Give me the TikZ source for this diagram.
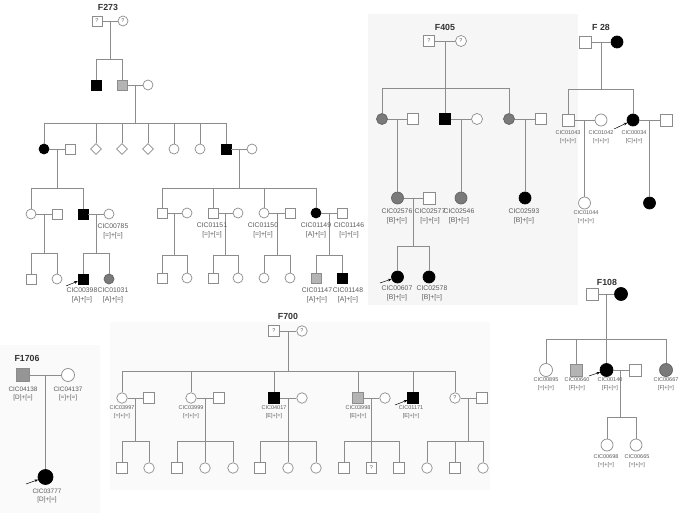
\documentclass[tikz,border=0pt]{standalone}
\usepackage{fontspec}
\setmainfont{Liberation Sans}
\usetikzlibrary{shapes.geometric,arrows.meta,calc}
\definecolor{lc}{HTML}{8C8C8C}
\definecolor{tc}{HTML}{5A5A5A}
\definecolor{cLight}{HTML}{B4B4B4}
\definecolor{cDark}{HTML}{7A7A7A}
\definecolor{cPanel}{HTML}{F6F6F6}
\definecolor{cPanelB}{HTML}{FAFAFA}
\tikzset{
  ind/.style={draw=lc, line width=0.7pt, fill=white, inner sep=0pt, minimum size=#1, font=\fontsize{5.5}{6}\selectfont, text=tc},
  male/.style={ind=#1, rectangle}, male/.default=10pt,
  fem/.style={ind=#1, circle}, fem/.default=10pt,
  unk/.style={ind=#1, diamond}, unk/.default=11pt,
  aff/.style={fill=black, draw=black},
  hlt/.style={fill=cLight},
  hdk/.style={fill=cDark, draw=cDark!80!black},
  rel/.style={draw=lc, line width=0.7pt},
  arr/.style={draw=black, line width=0.5pt, -{Stealth[length=3.5pt,width=2.8pt]}},
  ttl/.style={font=\bfseries\fontsize{8.8}{10}\selectfont, text=black!80, inner sep=0pt},
  lab/.style={text=tc, align=center, inner sep=0pt, font=\fontsize{6.8}{8.8}\selectfont},
  labs/.style={text=tc, align=center, inner sep=0pt, font=\fontsize{5.5}{8}\selectfont},
}
\newcommand\pmar[3]{\draw[rel] (#1) -- (#2); \coordinate (#3) at ($(#1)!0.5!(#2)$);}
\newcommand\psib[5]{%
  \draw[rel] (#1) -- (#1 |- 0,#2);
  \draw[rel] (#3 |- 0,#2) -- (#4 |- 0,#2);
  \foreach \cc in {#5}{\draw[rel] (\cc |- 0,#2) -- (\cc);}%
}
\begin{document}
\begin{tikzpicture}[x=1pt,y=-1pt]
\useasboundingbox (0,0) rectangle (685,513);
\fill[white] (0,0) rectangle (685,513);
\fill[cPanel] (368,14) rectangle (578,305);
\fill[cPanelB] (110,322) rectangle (490,490);
\fill[cPanelB] (0,345) rectangle (100,513);
% ================= F273
\node[ttl] (tT) at (108,7) {F273};
\node[male] (t1) at (97,21) {?};
\node[fem] (t2) at (123,21) {?};
\node[male,aff] (t3) at (96,85) {};
\node[male,hlt] (t4) at (122,85) {};
\node[fem] (t5) at (148,85) {};
\node[fem,aff] (t6) at (44,149) {};
\node[male] (t7) at (70,149) {};
\node[unk] (t8) at (96,149) {};
\node[unk] (t9) at (122,149) {};
\node[unk] (t10) at (148,149) {};
\node[fem] (t11) at (174,149) {};
\node[fem] (t12) at (200,149) {};
\node[male,aff] (t13) at (226,149) {};
\node[fem] (t14) at (252,149) {};
\pmar{t1}{t2}{tj1}
\psib{tj1}{59}{t3}{t4}{t3,t4}
\pmar{t4}{t5}{tj2}
\psib{tj2}{123}{t6}{t13}{t6,t8,t9,t10,t11,t12,t13}
\pmar{t6}{t7}{tj3}
\pmar{t13}{t14}{tj4}
\node[fem] (t15) at (31,214) {};
\node[male] (t16) at (57,214) {};
\node[male,aff] (t17) at (83,214) {};
\node[fem] (t18) at (109,214) {};
\psib{tj3}{188}{t15}{t17}{t15,t17}
\pmar{t15}{t16}{tj5}
\pmar{t17}{t18}{tj6}
\node[male] (t19) at (31,279) {};
\node[fem] (t20) at (57,279) {};
\node[male,aff] (t21) at (83,279) {};
\node[fem,hdk] (t22) at (109,279) {};
\psib{tj5}{253}{t19}{t20}{t19,t20}
\psib{tj6}{253}{t21}{t22}{t21,t22}
\node[lab] (tL1) at (113,231) {CIC00785\\{}[=]+[=]};
\node[lab] (tL2) at (82,295.5) {CIC00398\\{}[A]+[=]};
\node[lab] (tL3) at (113,295.5) {CIC01031\\{}[A]+[=]};
\coordinate (tA) at (66,286);
\draw[arr] (tA) -- (t21);
\node[male] (t23) at (162,213) {};
\node[fem] (t24) at (187,213) {};
\node[male] (t25) at (213,213) {};
\node[fem] (t26) at (238,213) {};
\node[fem] (t27) at (264,213) {};
\node[male] (t28) at (290,213) {};
\node[fem,aff] (t29) at (316,213) {};
\node[male] (t30) at (342,213) {};
\psib{tj4}{188}{t23}{t29}{t23,t25,t27,t29}
\pmar{t23}{t24}{tj7}
\pmar{t25}{t26}{tj8}
\pmar{t27}{t28}{tj9}
\pmar{t29}{t30}{tj10}
\node[male] (t31) at (162,278) {};
\node[fem] (t32) at (187,278) {};
\node[male] (t33) at (213,278) {};
\node[fem] (t34) at (238,278) {};
\node[fem] (t35) at (264,278) {};
\node[fem] (t36) at (290,278) {};
\node[male,hlt] (t37) at (316,278) {};
\node[male,aff] (t38) at (342,278) {};
\psib{tj7}{255}{t31}{t32}{t31,t32}
\psib{tj8}{255}{t33}{t34}{t33,t34}
\psib{tj9}{255}{t35}{t36}{t35,t36}
\psib{tj10}{255}{t37}{t38}{t37,t38}
\node[lab] (tL4) at (212,230.5) {CIC01151\\{}[=]+[=]};
\node[lab] (tL5) at (263,230.5) {CIC01150\\{}[=]+[=]};
\node[lab] (tL6) at (316,230.5) {CIC01149\\{}[A]+[=]};
\node[lab] (tL7) at (349,230.5) {CIC01146\\{}[=]+[=]};
\node[lab] (tL8) at (317,295.5) {CIC01147\\{}[A]+[=]};
\node[lab] (tL9) at (348,295.5) {CIC01148\\{}[A]+[=]};
% ================= F405
\node[ttl] (fT) at (445,27) {F405};
\node[male=11pt] (f1) at (429,41) {?};
\node[fem=11pt] (f2) at (461,41) {?};
\node[fem=11pt,hdk] (f3) at (382,119) {};
\node[male=11pt] (f4) at (413,119) {};
\node[male=11pt,aff] (f5) at (445,119) {};
\node[fem=11pt] (f6) at (477,119) {};
\node[fem=11pt,hdk] (f7) at (509,119) {};
\node[male=11pt] (f8) at (541,119) {};
\pmar{f1}{f2}{fj1}
\psib{fj1}{88}{f3}{f7}{f3,f5,f7}
\pmar{f3}{f4}{fj2}
\pmar{f5}{f6}{fj3}
\pmar{f7}{f8}{fj4}
\node[fem=12pt,hdk] (f9) at (397.5,198) {};
\node[male=12pt] (f10) at (429,198) {};
\node[fem=12pt,hdk] (f11) at (461,198) {};
\node[fem=12pt,aff] (f12) at (525,198) {};
\draw[rel] (fj2) -- (f9);
\draw[rel] (fj3) -- (f11);
\draw[rel] (fj4) -- (f12);
\pmar{f9}{f10}{fj5}
\node[fem=12pt,aff] (f13) at (397.5,277) {};
\node[fem=12pt,aff] (f14) at (429,277) {};
\psib{fj5}{246}{f13}{f14}{f13,f14}
\node[lab] (fL1) at (397,216) {CIC02576\\{}[B]+[=]};
\node[lab] (fL2) at (430,216) {CIC02577\\{}[=]+[=]};
\node[lab] (fL3) at (459,216) {CIC02546\\{}[B]+[=]};
\node[lab] (fL4) at (524,216) {CIC02593\\{}[B]+[=]};
\node[lab] (fL5) at (397,293) {CIC00607\\{}[B]+[=]};
\node[lab] (fL6) at (432,293) {CIC02578\\{}[B]+[=]};
\coordinate (fA) at (380,283);
\draw[arr] (fA) -- (f13);
% ================= F 28
\node[ttl] (eT) at (601,27) {F 28};
\node[male=12pt] (e1) at (585,42) {};
\node[fem=12pt,aff] (e2) at (617,42) {};
\node[male=12pt] (e3) at (568,120) {};
\node[fem=12pt] (e4) at (601,120) {};
\node[fem=12pt,aff] (e5) at (633,120) {};
\node[male=12pt] (e6) at (666,120) {};
\pmar{e1}{e2}{ej1}
\psib{ej1}{89}{e3}{e5}{e3,e5}
\pmar{e3}{e4}{ej2}
\pmar{e5}{e6}{ej3}
\node[fem=12pt] (e7) at (584.5,203) {};
\node[fem=12pt,aff] (e8) at (649.5,203) {};
\draw[rel] (ej2) -- (e7);
\draw[rel] (ej3) -- (e8);
\node[labs] (eL1) at (568,137.5) {CIC01043\\{}[=]+[=]};
\node[labs] (eL2) at (601,137.5) {CIC01042\\{}[=]+[=]};
\node[labs] (eL3) at (634,137.5) {CIC00034\\{}[C]+[=]};
\node[labs] (eL4) at (586,217) {CIC01044\\{}[=]+[=]};
\coordinate (eA) at (614,129);
\draw[arr] (eA) -- (e5);
% ================= F108
\node[ttl] (hT) at (607,282) {F108};
\node[male=12pt] (h1) at (592,294) {};
\node[fem=13pt,aff] (h2) at (621,294) {};
\node[fem=13pt] (h3) at (546,370) {};
\node[male=12pt,hlt] (h4) at (576,370) {};
\node[fem=13pt,aff] (h5) at (606.5,370) {};
\node[male=12pt] (h6) at (635,370) {};
\node[fem=13pt,hdk] (h7) at (666,370) {};
\pmar{h1}{h2}{hj1}
\psib{hj1}{339}{h3}{h7}{h3,h4,h5,h7}
\pmar{h5}{h6}{hj2}
\node[fem=12pt] (h8) at (607,445) {};
\node[fem=12pt] (h9) at (636,445) {};
\psib{hj2}{417}{h8}{h9}{h8,h9}
\node[labs] (hL1) at (546,384) {CIC00895\\{}[=]+[=]};
\node[labs] (hL2) at (577,384) {CIC00660\\{}[F]+[=]};
\node[labs] (hL3) at (610,384) {CIC00140\\{}[F]+[=]};
\node[labs] (hL4) at (666,384) {CIC00667\\{}[F]+[=]};
\node[labs] (hL5) at (606,461) {CIC00698\\{}[=]+[=]};
\node[labs] (hL6) at (637,461) {CIC00665\\{}[=]+[=]};
\coordinate (hA) at (589,376);
\draw[arr] (hA) -- (h5);
% ================= F700
\node[ttl] (sT) at (288,316) {F700};
\node[male=10.5pt] (s1) at (274,331) {?};
\node[fem=10.5pt] (s2) at (302,331) {?};
\node[fem=10.5pt] (s3) at (122,398) {};
\node[male=10.5pt] (s4) at (149,398) {};
\node[fem=10.5pt] (s5) at (191,398) {};
\node[male=10.5pt] (s6) at (219,398) {};
\node[male=10.5pt,aff] (s7) at (274,398) {};
\node[fem=10.5pt] (s8) at (302,398) {};
\node[male=10.5pt,hlt] (s9) at (358,398) {};
\node[fem=10.5pt] (s10) at (385,398) {};
\node[male=10.5pt,aff] (s11) at (413,398) {};
\node[fem=10.5pt] (s12) at (455,398) {?};
\node[male=10.5pt] (s13) at (482,398) {};
\pmar{s1}{s2}{sj1}
\psib{sj1}{371}{s3}{s12}{s3,s5,s7,s9,s11,s12}
\pmar{s3}{s4}{sj2}
\pmar{s5}{s6}{sj3}
\pmar{s7}{s8}{sj4}
\pmar{s9}{s10}{sj5}
\pmar{s12}{s13}{sj6}
\node[male=10.5pt] (s14) at (122,468) {};
\node[fem=10.5pt] (s15) at (149,468) {};
\node[male=10.5pt] (s16) at (177,468) {};
\node[fem=10.5pt] (s17) at (205,468) {};
\node[fem=10.5pt] (s18) at (233,468) {};
\node[male=10.5pt] (s19) at (260,468) {};
\node[fem=10.5pt] (s20) at (288,468) {};
\node[fem=10.5pt] (s21) at (316,468) {};
\node[male=10.5pt] (s22) at (344,468) {};
\node[male=10.5pt] (s23) at (371.5,468) {?};
\node[male=10.5pt] (s24) at (399,468) {};
\node[fem=10.5pt] (s25) at (427,468) {};
\node[male=10.5pt] (s26) at (455,468) {};
\node[fem=10.5pt] (s27) at (483,468) {};
\psib{sj2}{441}{s14}{s15}{s14,s15}
\psib{sj3}{441}{s16}{s18}{s16,s17,s18}
\psib{sj4}{441}{s19}{s21}{s19,s20,s21}
\psib{sj5}{441}{s22}{s24}{s22,s23,s24}
\psib{sj6}{441}{s25}{s27}{s25,s26,s27}
\node[labs] (sL1) at (122,412.5) {CIC03997\\{}[=]+[=]};
\node[labs] (sL2) at (191,412.5) {CIC03999\\{}[=]+[=]};
\node[labs] (sL3) at (274,412.5) {CIC04017\\{}[E]+[=]};
\node[labs] (sL4) at (358,412.5) {CIC03998\\{}[E]+[=]};
\node[labs] (sL5) at (411,412.5) {CIC01171\\{}[E]+[=]};
\coordinate (sA) at (395,405);
\draw[arr] (sA) -- (s11);
% ================= F1706
\node[ttl] (kT) at (27,358) {F1706};
\node[male=13pt,fill=cDark!80] (k1) at (23,375) {};
\node[fem=13pt] (k2) at (68,375) {};
\pmar{k1}{k2}{kj1}
\node[fem=15pt,aff] (k3) at (45.5,477) {};
\draw[rel] (kj1) -- (k3);
\node[lab,font=\fontsize{6.4}{8.5}\selectfont] (kL1) at (23,394) {CIC04138\\{}[D]+[=]};
\node[lab,font=\fontsize{6.4}{8.5}\selectfont] (kL2) at (68,394) {CIC04137\\{}[=]+[=]};
\node[lab,font=\fontsize{6.4}{8.5}\selectfont] (kL3) at (47,496) {CIC03777\\{}[D]+[=]};
\coordinate (kA) at (26,484);
\draw[arr] (kA) -- (k3);
\end{tikzpicture}
\end{document}
